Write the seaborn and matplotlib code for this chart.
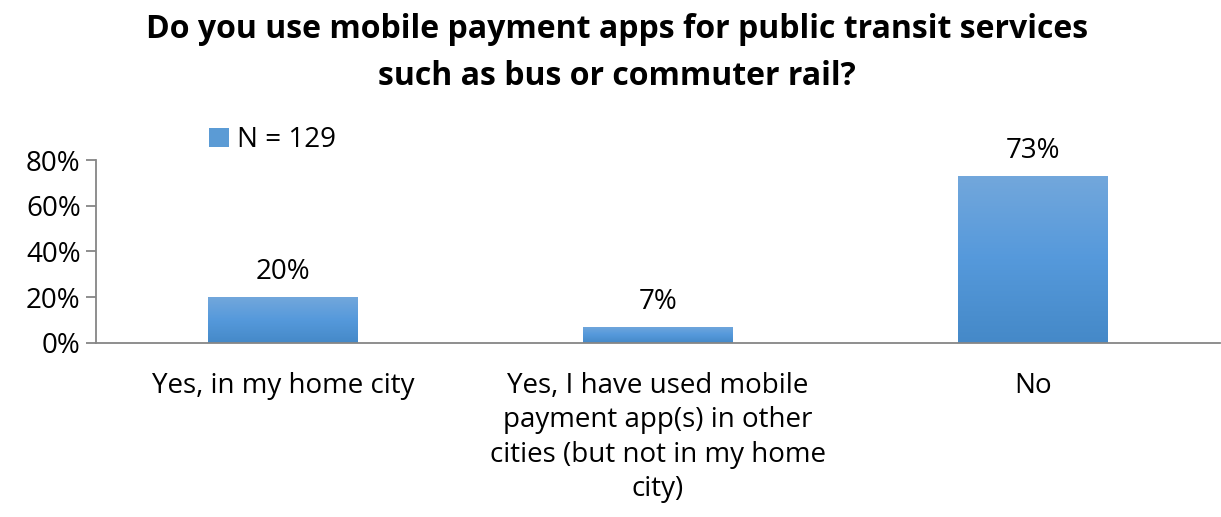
import numpy as np
import pandas as pd
import matplotlib
matplotlib.use("Agg")
import matplotlib.pyplot as plt
from matplotlib.colors import LinearSegmentedColormap
from matplotlib.patches import Patch
import seaborn as sns

categories = [
    "Yes, in my home city",
    "Yes, I have used mobile\npayment app(s) in other\ncities (but not in my home\ncity)",
    "No",
]
values = [20, 7, 73]
value_labels = ["20%", "7%", "73%"]
yticks = [0, 20, 40, 60, 80]
ytick_labels = ["0%", "20%", "40%", "60%", "80%"]
series_name = "N = 129"
title = "Do you use mobile payment apps for public transit services\nsuch as bus or commuter rail?"

df = pd.DataFrame({"category": categories, "value": values})

sns.set_style("white")
plt.rcParams["font.family"] = ["Open Sans", "DejaVu Sans"]
plt.rcParams["text.color"] = "black"
plt.rcParams["xtick.labelcolor"] = "black"
plt.rcParams["ytick.labelcolor"] = "black"

grey = "#868686"
fs = 20
fig = plt.figure(figsize=(12.21, 5.17), dpi=100)
ax = fig.add_axes([0.0786, 0.3366, 0.9206, 0.3539])

sns.barplot(data=df, x="category", y="value", color="#5b9bd5", width=0.4, ax=ax)

# gradient fill like the office chart
grad = LinearSegmentedColormap.from_list("g", ["#4589c8", "#5599db", "#72a7dc"])
for p in ax.patches:
    x0, y0 = p.get_x(), p.get_y()
    w, h = p.get_width(), p.get_height()
    img = ax.imshow(np.linspace(0, 1, 100).reshape(-1, 1), cmap=grad, origin="lower",
                    extent=(x0, x0 + w, y0, y0 + h), aspect="auto", zorder=p.get_zorder())
    img.set_clip_path(p)
    p.set_facecolor("none")
    p.set_edgecolor("none")

for i, lab in enumerate(value_labels):
    ax.annotate(lab, (i, values[i]), xytext=(0, 8), textcoords="offset points",
                ha="center", va="bottom", fontsize=fs, color="black")

ax.set_xlim(-0.5, 2.5)
ax.set_ylim(0, 80)
ax.set_yticks(yticks)
ax.set_yticklabels(ytick_labels, fontsize=fs)
ax.set_xticks(range(len(categories)))
ax.set_xticklabels(categories, fontsize=fs, linespacing=1.3)
ax.set_xticks([-0.5, 0.5, 1.5, 2.5], minor=True)
ax.tick_params(axis="x", which="major", length=0, pad=21, labelcolor="black")
ax.tick_params(axis="x", which="minor", length=7, width=1.3, color=grey, direction="out")
ax.tick_params(axis="y", length=7, width=1.3, color=grey, direction="out", pad=4,
               left=True, labelcolor="black")
ax.set_xlabel("")
ax.set_ylabel("")
for s in ["top", "right"]:
    ax.spines[s].set_visible(False)
for s in ["left", "bottom"]:
    ax.spines[s].set_color(grey)
    ax.spines[s].set_linewidth(1.3)

fig.suptitle(title, fontsize=23, fontweight="bold", x=0.505, y=0.975, linespacing=1.55,
             color="black")

handle = Patch(facecolor="#5b9bd5", edgecolor="none")
fig.legend([handle], [series_name], loc="center left", bbox_to_anchor=(0.16, 0.729),
           frameon=False, fontsize=fs, handlelength=0.7, handleheight=0.7,
           handletextpad=0.3, borderpad=0, labelcolor="black")

fig.savefig("out.png", dpi=100)
